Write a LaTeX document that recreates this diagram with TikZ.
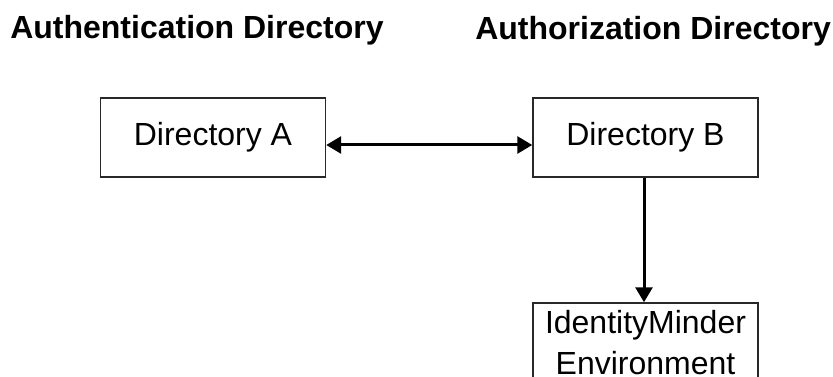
\documentclass[tikz,border=0pt]{standalone}
\usepackage{fontspec}
\setmainfont{Liberation Sans}
\usetikzlibrary{
    positioning,
    arrows.meta,
    calc
}
\definecolor{lineGray}{RGB}{40, 40, 40}

\begin{document}
\begin{tikzpicture}[x=0.75pt, y=-0.75pt, >={Triangle[length=11.25pt, width=12.75pt]},
    dirbox/.style={draw=lineGray, line width=1.1pt, minimum width=168.75pt, minimum height=59.25pt,
        inner sep=0pt, align=center, font=\fontsize{24}{30.75}\selectfont},
    heading/.style={anchor=base west, inner sep=0pt, font=\fontsize{24}{28.5}\selectfont\bfseries},
    link/.style={line width=2.25pt}]
    % 枠
    \useasboundingbox (0,0) rectangle (833,377);
    \clip (0,0) rectangle (833,377);

    % 見出し
    \node[heading] (authnHead) at (10,39) {Authentication Directory};
    \node[heading] (authzHead) at (475,40) {Authorization Directory};

    % ディレクトリ
    \node[dirbox] (dirA) at (213,137.5) {Directory A};
    \node[dirbox] (dirB) at (645.5,137.5) {Directory B};
    \node[dirbox] (imEnv) at (645.5,342.5) {IdentityMinder\\Environment};

    % 矢印
    \draw[link, <->] ($(dirA.east)+(0,7.5)$) -- ($(dirB.west)+(0,7.5)$);
    \draw[link, ->] ($(dirB.south)+(-1.5,0)$) -- ($(imEnv.north)+(-1.5,0)$);
\end{tikzpicture}
\end{document}
